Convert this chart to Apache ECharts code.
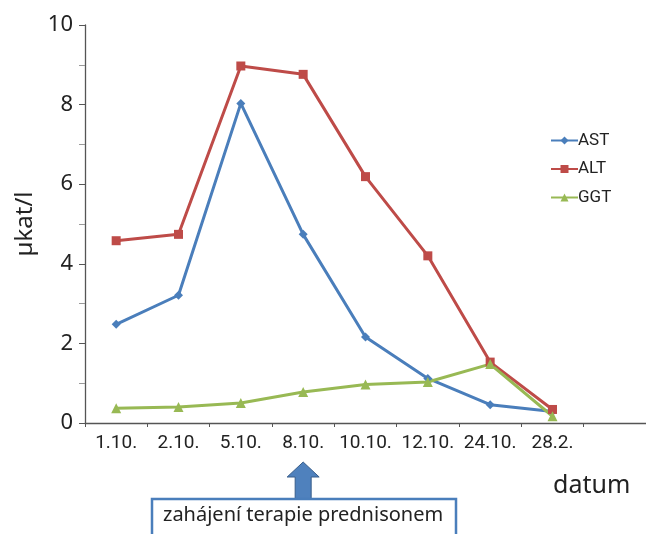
<!DOCTYPE html>
<html>
<head>
<meta charset="utf-8">
<script src="https://cdn.jsdelivr.net/npm/echarts@6/dist/echarts.min.js"></script>
<style>
html,body{margin:0;padding:0;background:#fff;}
#chart{width:646px;height:534px;}
</style>
</head>
<body>
<div id="chart"></div>
<script>
var categories = ['1.10.', '2.10.', '5.10.', '8.10.', '10.10.', '12.10.', '24.10.', '28.2.', ''];
var astValues = [2.48, 3.21, 8.03, 4.74, 2.16, 1.12, 0.46, 0.29, null];
var altValues = [4.58, 4.74, 8.97, 8.76, 6.19, 4.20, 1.53, 0.34, null];
var ggtValues = [0.37, 0.40, 0.50, 0.78, 0.97, 1.03, 1.48, 0.17, null];
var seriesNames = ['AST', 'ALT', 'GGT'];
var yTicks = [0, 2, 4, 6, 8, 10];
var yAxisTitle = 'µkat/l';
var xAxisTitle = 'datum';
var annotationText = 'zahájení terapie prednisonem';
var annotationCategory = '8.10.';

var chart = echarts.init(document.getElementById('chart'), null, {renderer: 'canvas'});
var narrow = "Roboto, 'Liberation Sans', sans-serif";
var humanist = "'Noto Sans', 'Open Sans', sans-serif";
var axisColor = '#555555';

function mkSeries(name, data, color, symbol, size) {
  return {
    name: name, type: 'line', data: data,
    symbol: symbol, symbolSize: size,
    lineStyle: {color: color, width: 3},
    itemStyle: {color: color},
    emphasis: {disabled: true},
    animation: false
  };
}

var option = {
  animation: false,
  grid: {left: 85, right: 0, top: 25, bottom: 111, containLabel: false},
  legend: {
    orient: 'vertical', left: 550, top: 132, padding: 0,
    itemWidth: 27, itemHeight: 10, itemGap: 11.5,
    data: seriesNames,
    textStyle: {fontFamily: narrow, fontSize: 17, color: '#222', padding: [0,0,0,-5], lineHeight: 17}
  },
  xAxis: {
    type: 'category', data: categories, boundaryGap: true,
    axisLine: {lineStyle: {color: axisColor, width: 1.3}},
    axisTick: {show: true, interval: 0, length: 4, lineStyle: {color: axisColor}},
    axisLabel: {interval: 0, margin: 11, fontFamily: narrow, fontSize: 19, color: '#222'}
  },
  yAxis: {
    type: 'value', min: 0, max: 10, interval: 2,
    name: yAxisTitle, nameLocation: 'middle', nameRotate: 90, nameGap: 40,
    nameTextStyle: {fontFamily: humanist, fontSize: 24, color: '#222'},
    axisLine: {show: true, lineStyle: {color: axisColor, width: 1.3}},
    axisTick: {show: true, length: 6, lineStyle: {color: axisColor}},
    minorTick: {show: true, splitNumber: 2, length: 6, lineStyle: {color: '#999'}},
    splitLine: {show: false},
    axisLabel: {margin: 12, fontFamily: humanist, fontSize: 22, color: '#222',
      formatter: function (v) { return yTicks.indexOf(v) >= 0 ? String(v) : ''; }}
  },
  series: [
    mkSeries(seriesNames[0], astValues, '#4a7ebb', 'diamond', 9),
    mkSeries(seriesNames[1], altValues, '#be4b48', 'rect', 9),
    mkSeries(seriesNames[2], ggtValues, '#98b954', 'triangle', 10)
  ]
};
chart.setOption(option);

var ax = chart.convertToPixel({xAxisIndex: 0}, annotationCategory);
var tipY = 462, headY = 477, boxTop = 499;
chart.setOption({
  graphic: [
    {type: 'text', left: 553, top: 473,
     style: {text: xAxisTitle, font: "25px 'Noto Sans', 'Open Sans', sans-serif", fill: '#222'}},
    {type: 'polygon', z: 10,
     shape: {points: [[ax, tipY], [ax + 16, headY], [ax + 8, headY], [ax + 8, boxTop], [ax - 8, boxTop], [ax - 8, headY], [ax - 16, headY]]},
     style: {fill: '#4f81bd', stroke: '#385d8a', lineWidth: 1}},
    {type: 'rect', z: 11,
     shape: {x: 152, y: boxTop, width: 304, height: 50},
     style: {fill: '#fff', stroke: '#4a7ebb', lineWidth: 2.5}},
    {type: 'text', z: 12, left: 163, top: 505,
     style: {text: annotationText, font: "20px 'Noto Sans', 'Open Sans', sans-serif", fill: '#222'}}
  ]
});
</script>
</body>
</html>
